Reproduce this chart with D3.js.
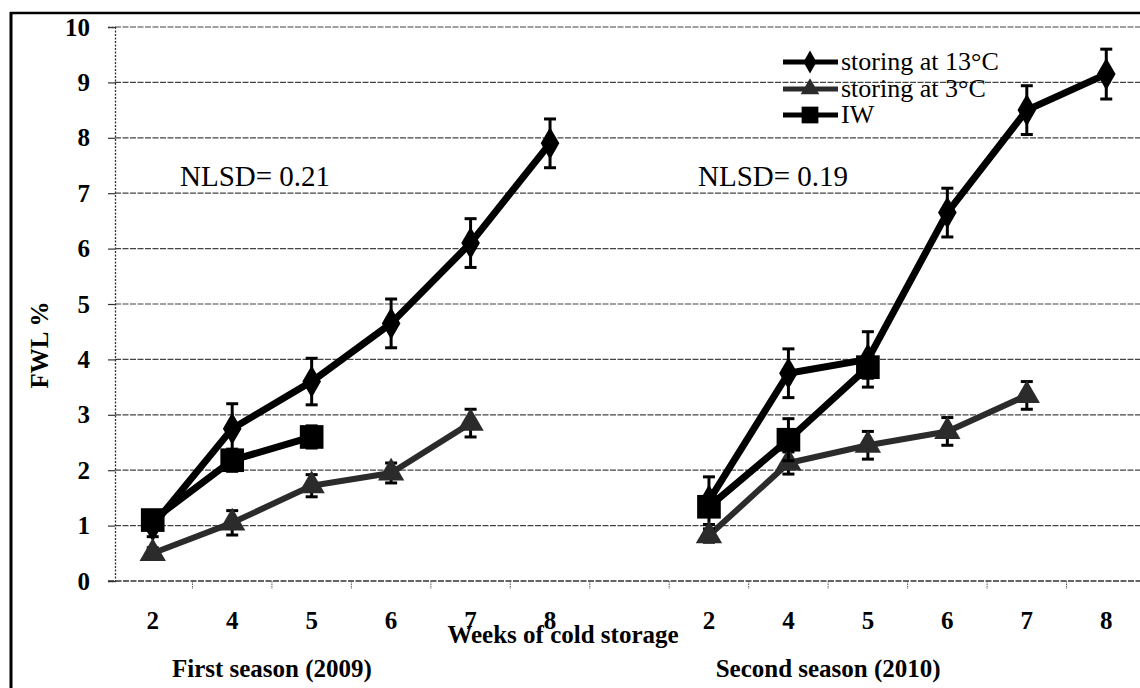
<!DOCTYPE html>
<html><head><meta charset="utf-8">
<script src="https://cdn.jsdelivr.net/npm/d3@7"></script>
<style>
html,body{margin:0;padding:0;background:#fff;}
svg text{font-family:"Liberation Serif","DejaVu Serif","Times New Roman",serif !important;}
</style></head>
<body><svg id="c" width="1140" height="688"></svg>
<script>
// ---- data ----
const slots = ["s1-2","s1-4","s1-5","s1-6","s1-7","s1-8","gap","s2-2","s2-4","s2-5","s2-6","s2-7","s2-8"];
const tickLabels = ["2","4","5","6","7","8","","2","4","5","6","7","8"];
const yTicks = [0,1,2,3,4,5,6,7,8,9,10];
const storing13 = [1.0, 2.75, 3.6, 4.65, 6.1, 7.9, null, 1.45, 3.75, 4.0, 6.65, 8.5, 9.15];
const err13     = [0.2, 0.45, 0.42, 0.44, 0.44, 0.44, null, 0.43, 0.44, 0.5, 0.44, 0.44, 0.45];
const storing3  = [0.5, 1.05, 1.72, 1.95, 2.85, null, null, 0.82, 2.13, 2.45, 2.7, 3.35, null];
const err3      = [0.1, 0.22, 0.2, 0.18, 0.25, null, null, 0.12, 0.2, 0.25, 0.25, 0.25, null];
const iw        = [1.1, 2.18, 2.6, null, null, null, null, 1.34, 2.55, 3.86, null, null, null];
const errIW     = [0.15, 0.2, 0.2, null, null, null, null, 0.15, 0.38, 0.2, null, null, null];
const seriesNames = ["storing at 13°C","storing at 3°C","IW"];
const notes = ["NLSD= 0.21","NLSD= 0.19"];
const seasons = ["First season (2009)","Second season (2010)"];

// ---- layout ----
const svg = d3.select("#c");
const x = d3.scaleBand().domain(slots).range([113, 1146]).padding(0);
const y = d3.scaleLinear().domain([0,10]).range([581, 27]);
const cx = i => x(slots[i]) + x.bandwidth()/2;

// outer border
svg.append("line").attr("x1",11).attr("x2",11).attr("y1",12).attr("y2",688).attr("stroke","#000").attr("stroke-width",3);
svg.append("line").attr("x1",10).attr("x2",1140).attr("y1",13).attr("y2",13).attr("stroke","#000").attr("stroke-width",2.5);

// gridlines
svg.append("g").selectAll("line").data(yTicks.filter(d=>d>0)).join("line")
  .attr("x1",115).attr("x2",1140).attr("y1",d=>y(d)).attr("y2",d=>y(d))
  .attr("stroke","#444").attr("stroke-width",1.2).attr("stroke-dasharray","6,1.5");

// y axis
const ya = svg.append("g").attr("transform","translate(115,0)")
  .call(d3.axisLeft(y).tickValues(yTicks).tickSize(7).tickPadding(18).tickFormat(d3.format("d")));
ya.attr("font-family",null);
ya.select(".domain").attr("stroke","#333").attr("stroke-width",1.3).attr("stroke-dasharray","2,1.5");
ya.selectAll(".tick line").attr("stroke","#333").attr("stroke-width",1.2);
ya.selectAll("text").attr("font-size",25).attr("font-weight","bold").attr("fill","#000");

// x axis line + boundary ticks
svg.append("line").attr("x1",108).attr("x2",1140).attr("y1",y(0)).attr("y2",y(0))
  .attr("stroke","#333").attr("stroke-width",1.3).attr("stroke-dasharray","6,1.5");
svg.append("g").selectAll("line").data(slots.slice(1)).join("line")
  .attr("x1",d=>x(d)).attr("x2",d=>x(d)).attr("y1",y(0)).attr("y2",y(0)+8)
  .attr("stroke","#555").attr("stroke-width",1).attr("stroke-dasharray","1.5,1");
svg.append("g").selectAll("text").data(tickLabels).join("text")
  .attr("x",(d,i)=>cx(i)).attr("y",629).attr("text-anchor","middle")
  .attr("font-size",25).attr("font-weight","bold").text(d=>d);

// axis titles
svg.append("text").attr("x",563).attr("y",643).attr("text-anchor","middle")
  .attr("font-size",25).attr("font-weight","bold").text("Weeks of cold storage");
svg.append("text").attr("transform","translate(48,345) rotate(-90)").attr("text-anchor","middle")
  .attr("font-size",25).attr("font-weight","bold").text("FWL %");
svg.append("text").attr("x",(cx(1)+cx(2))/2).attr("y",677).attr("text-anchor","middle")
  .attr("font-size",25).attr("font-weight","bold").text(seasons[0]);
svg.append("text").attr("x",(cx(8)+cx(9))/2).attr("y",677).attr("text-anchor","middle")
  .attr("font-size",25).attr("font-weight","bold").text(seasons[1]);

// notes
svg.append("text").attr("x",180).attr("y",186).attr("font-size",29).text(notes[0]);
svg.append("text").attr("x",698).attr("y",186).attr("font-size",29).text(notes[1]);

// ---- series ----
const series = [
  {vals:storing13, err:err13, color:"#000", lw:7, shape:d3.symbolDiamond, size:300},
  {vals:storing3,  err:err3,  color:"#2b2b2b", lw:6, shape:d3.symbolTriangle, size:300},
  {vals:iw,        err:errIW, color:"#000", lw:7, shape:d3.symbolSquare, size:560}
];
const line = d3.line().defined(d=>d.v!=null).x(d=>cx(d.i)).y(d=>y(d.v));

series.forEach(s=>{
  const pts = s.vals.map((v,i)=>({v,i,e:s.err[i]}));
  const g = svg.append("g");
  g.append("path").datum(pts).attr("d",line).attr("fill","none")
    .attr("stroke",s.color).attr("stroke-width",s.lw).attr("stroke-linejoin","round");
  const valid = pts.filter(d=>d.v!=null);
  const eb = g.append("g").selectAll("g").data(valid.filter(d=>d.e!=null)).join("g");
  eb.append("line").attr("x1",d=>cx(d.i)).attr("x2",d=>cx(d.i))
    .attr("y1",d=>y(d.v+d.e)).attr("y2",d=>y(d.v-d.e)).attr("stroke","#000").attr("stroke-width",3);
  [1,-1].forEach(sg=>{
    eb.append("line").attr("x1",d=>cx(d.i)-6).attr("x2",d=>cx(d.i)+6)
      .attr("y1",d=>y(d.v+sg*d.e)).attr("y2",d=>y(d.v+sg*d.e)).attr("stroke","#000").attr("stroke-width",3);
  });
  g.append("g").selectAll("path").data(valid).join("path")
    .attr("transform",d=>`translate(${cx(d.i)},${y(d.v)})`)
    .attr("d",d3.symbol().type(s.shape).size(s.size)).attr("fill",s.color);
});

// ---- legend ----
const lg = svg.append("g");
const legY = [62, 89, 115];
series.forEach((s,k)=>{
  lg.append("line").attr("x1",783).attr("x2",838).attr("y1",legY[k]).attr("y2",legY[k])
    .attr("stroke",s.color).attr("stroke-width",5);
  lg.append("path").attr("transform",`translate(810,${legY[k]})`)
    .attr("d",d3.symbol().type(s.shape).size(s.size*0.5)).attr("fill",s.color);
  lg.append("text").attr("x",841).attr("y",legY[k]+8).attr("font-size",26).text(seriesNames[k]);
});
</script>
</body></html>
